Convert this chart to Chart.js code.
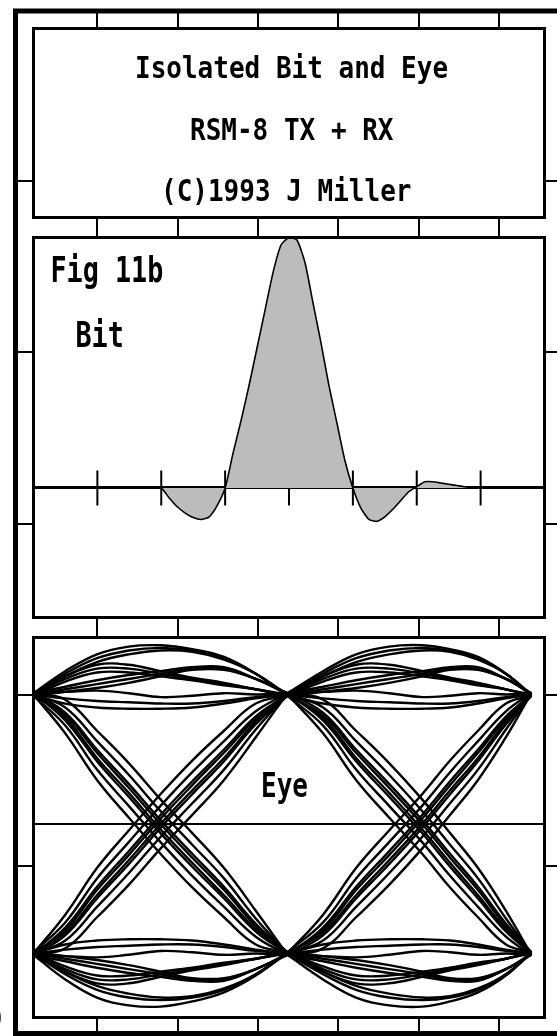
<!DOCTYPE html>
<html><head><meta charset="utf-8">
<script src="https://cdn.jsdelivr.net/npm/chart.js@4.4.1/dist/chart.umd.min.js"></script>
<style>
html,body{margin:0;padding:0;background:#fff;overflow:hidden;width:557px;height:1036px;}
canvas{position:absolute;display:block;}
</style></head><body>
<canvas id="frame" width="600" height="1040" style="left:0px;top:0px"></canvas>
<canvas id="box1" width="518" height="198" style="left:30px;top:24px"></canvas>
<canvas id="box2" width="518" height="389" style="left:30px;top:233px"></canvas>
<canvas id="box3" width="518" height="389" style="left:30px;top:633px"></canvas>
<script>
// ---- text ----
const titleLines = ["Isolated Bit and Eye", "RSM-8 TX + RX", "(C)1993 J Miller"];
const figLabel = "Fig 11b";
const bitLabel = "Bit";
const eyeLabel = "Eye";
const edgeGlyph = ")";

// ---- isolated bit (pulse response), x in bit periods ----
const bitX = [1.875, 2, 2.125, 2.25, 2.375, 2.5, 2.625, 2.75, 2.875, 3, 3.125, 3.25, 3.375, 3.5, 3.625, 3.75, 3.875, 4, 4.125, 4.25, 4.375, 4.5, 4.625, 4.75, 4.875, 5, 5.125, 5.25, 5.375, 5.5, 5.625, 5.75, 5.875, 6, 6.125, 6.25, 6.375, 6.5, 6.625, 6.75, 6.875];
const bitY = [0, 0, -0.04, -0.075, -0.10, -0.118, -0.126, -0.115, -0.07, 0, 0.14, 0.27, 0.41, 0.56, 0.71, 0.86, 0.97, 1.0, 0.99, 0.90, 0.74, 0.58, 0.41, 0.26, 0.11, 0, -0.08, -0.125, -0.133, -0.115, -0.085, -0.05, -0.015, 0.005, 0.025, 0.025, 0.02, 0.015, 0.01, 0.005, 0];
const bitTicks = [1, 2, 3, 4, 5, 6, 7];

// ---- eye diagram: sample times for the two periods ----
const eyeTimeA = [0, 0.125, 0.25, 0.375, 0.5, 0.625, 0.75, 0.875, 1];
const eyeTimeB = [1, 1.14, 1.27, 1.40, 1.53, 1.64, 1.75, 1.86, 1.96];

// traces staying high
const eyeHigh = [
  [1.01, 1.18, 1.31, 1.37, 1.38, 1.35, 1.29, 1.16, 0.99],
  [1.00, 1.16, 1.28, 1.34, 1.36, 1.34, 1.28, 1.16, 1.00],
  [0.99, 1.14, 1.25, 1.31, 1.34, 1.33, 1.27, 1.16, 0.99],
  [1.01, 1.14, 1.23, 1.23, 1.18, 1.13, 1.09, 1.04, 0.99],
  [1.00, 1.12, 1.20, 1.20, 1.16, 1.12, 1.08, 1.04, 1.00],
  [0.99, 1.10, 1.17, 1.17, 1.14, 1.11, 1.07, 1.04, 0.99],
  [1.01, 1.06, 1.11, 1.15, 1.18, 1.21, 1.21, 1.12, 1.01],
  [1.00, 1.04, 1.08, 1.12, 1.16, 1.20, 1.20, 1.12, 1.00],
  [0.99, 1.02, 1.05, 1.09, 1.14, 1.19, 1.19, 1.12, 1.01],
  [1.01, 1.02, 1.03, 1.01, 0.98, 0.99, 1.01, 1.00, 1.01],
  [1.00, 0.97, 0.95, 0.94, 0.93, 0.93, 0.95, 0.98, 1.00],
  [1.00, 0.93, 0.90, 0.89, 0.89, 0.90, 0.93, 0.97, 1.00]
];
// traces staying low
const eyeLow = [
  [-1.01, -1.20, -1.34, -1.40, -1.41, -1.37, -1.30, -1.17, -0.99],
  [-1.00, -1.16, -1.28, -1.34, -1.36, -1.34, -1.28, -1.16, -1.00],
  [-0.99, -1.14, -1.25, -1.31, -1.34, -1.33, -1.27, -1.16, -0.99],
  [-1.01, -1.14, -1.23, -1.23, -1.18, -1.13, -1.09, -1.04, -0.99],
  [-1.00, -1.12, -1.20, -1.20, -1.16, -1.12, -1.08, -1.04, -1.00],
  [-0.99, -1.10, -1.17, -1.17, -1.14, -1.11, -1.07, -1.04, -0.99],
  [-1.01, -1.06, -1.11, -1.15, -1.18, -1.21, -1.21, -1.12, -1.01],
  [-1.00, -1.04, -1.08, -1.12, -1.16, -1.20, -1.20, -1.12, -1.00],
  [-0.99, -1.02, -1.05, -1.09, -1.14, -1.19, -1.19, -1.12, -1.01],
  [-1.01, -1.02, -1.03, -1.01, -0.98, -0.99, -1.01, -1.00, -1.01],
  [-1.00, -0.97, -0.95, -0.94, -0.93, -0.93, -0.95, -0.98, -1.00],
  [-1.00, -0.93, -0.90, -0.89, -0.89, -0.90, -0.93, -0.97, -1.00]
];
// falling transitions
const eyeFall = [
  [1.01, 0.96, 0.72, 0.47, 0.19, -0.07, -0.34, -0.67, -1.01],
  [1.00, 0.90, 0.64, 0.38, 0.10, -0.16, -0.42, -0.73, -1.00],
  [1.01, 0.86, 0.575, 0.31, 0.03, -0.23, -0.485, -0.77, -0.99],
  [0.99, 0.84, 0.55, 0.28, 0.00, -0.26, -0.51, -0.79, -1.01],
  [1.00, 0.82, 0.51, 0.24, -0.04, -0.30, -0.55, -0.81, -0.99],
  [1.01, 0.80, 0.485, 0.21, -0.07, -0.33, -0.575, -0.83, -1.00],
  [0.99, 0.76, 0.42, 0.14, -0.14, -0.40, -0.64, -0.87, -1.01],
  [1.00, 0.70, 0.34, 0.05, -0.23, -0.49, -0.72, -0.93, -0.99]
];
// rising transitions
const eyeRise = [
  [-1.01, -0.96, -0.72, -0.47, -0.19, 0.07, 0.34, 0.67, 1.01],
  [-1.00, -0.90, -0.64, -0.38, -0.10, 0.16, 0.42, 0.73, 1.00],
  [-1.01, -0.86, -0.575, -0.31, -0.03, 0.23, 0.485, 0.77, 0.99],
  [-0.99, -0.84, -0.55, -0.28, 0.00, 0.26, 0.51, 0.79, 1.01],
  [-1.00, -0.82, -0.51, -0.24, 0.04, 0.30, 0.55, 0.81, 0.99],
  [-1.01, -0.80, -0.485, -0.21, 0.07, 0.33, 0.575, 0.83, 1.00],
  [-0.99, -0.76, -0.42, -0.14, 0.14, 0.40, 0.64, 0.87, 1.01],
  [-1.00, -0.70, -0.34, -0.05, 0.23, 0.49, 0.72, 0.93, 0.99]
];

// ---- drawing helpers ----
const FONT = '"DejaVu Sans Mono", "Liberation Mono", monospace';
function drawTexts(chart, texts) {
  const ctx = chart.ctx;
  const ox = chart.canvas.offsetLeft, oy = chart.canvas.offsetTop;
  (texts || []).forEach(t => {
    ctx.save();
    ctx.fillStyle = '#000';
    ctx.font = 'bold ' + t.size + 'px ' + FONT;
    ctx.textAlign = 'left';
    ctx.textBaseline = 'alphabetic';
    ctx.translate(t.x - ox, t.y - oy);
    ctx.scale(t.sx || 1, t.sy || 1);
    ctx.fillText(t.text, 0, 0);
    ctx.restore();
  });
}
const boxPlugin = {
  id: 'boxFrame',
  beforeDraw(chart) {
    const {ctx, chartArea: a} = chart;
    ctx.save();
    ctx.fillStyle = '#fff';
    ctx.fillRect(a.left, a.top, a.right - a.left, a.bottom - a.top);
    ctx.restore();
  },
  afterDraw(chart, args, opts) {
    const {ctx, chartArea: a} = chart;
    ctx.save();
    ctx.strokeStyle = '#000';
    ctx.lineWidth = 3;
    ctx.strokeRect(a.left, a.top, a.right - a.left, a.bottom - a.top);
    ctx.restore();
    drawTexts(chart, opts.texts);
  }
};
const framePlugin = {
  id: 'outerFrame',
  afterDraw(chart, args, opts) {
    const ctx = chart.ctx;
    ctx.save();
    ctx.strokeStyle = '#000';
    ctx.lineWidth = 5;
    ctx.strokeRect(15.5, 11, 620, 1022.5);
    ctx.restore();
    drawTexts(chart, opts.texts);
  }
};
const base = {
  responsive: false, animation: false, events: [],
  plugins: {legend: {display: false}, tooltip: {enabled: false}, title: {display: false}}
};
function opts(extra) {
  return Object.assign({}, base, extra, {plugins: Object.assign({}, base.plugins, extra.plugins || {})});
}
const boxPadding = {autoPadding: false, padding: {left: 3.5, right: 3.5, top: 4.5, bottom: 4.5}};

// ---- outer frame with grid ----
new Chart(document.getElementById('frame'), {
  type: 'line',
  data: {datasets: []},
  options: opts({
    layout: {autoPadding: false, padding: {left: 17, right: 20.5, top: 9.75, bottom: 2.75}},
    plugins: {outerFrame: {texts: [{text: edgeGlyph, x: -10, y: 1027, size: 26, sy: 1.16}]}},
    scales: {
      x: {type: 'linear', min: 0, max: 7, ticks: {display: false, stepSize: 1}, grid: {color: '#000', lineWidth: 2, drawTicks: false}, border: {display: false}},
      y: {type: 'linear', min: 0, max: 6, ticks: {display: false, stepSize: 1}, grid: {color: '#000', lineWidth: 2, drawTicks: false}, border: {display: false}}
    }
  }),
  plugins: [framePlugin]
});

// ---- title box ----
new Chart(document.getElementById('box1'), {
  type: 'line',
  data: {datasets: []},
  options: opts({
    layout: boxPadding,
    plugins: {boxFrame: {texts: [
      {text: titleLines[0], x: 135, y: 78, size: 26, sy: 1.16},
      {text: titleLines[1], x: 190, y: 140, size: 26, sy: 1.16},
      {text: titleLines[2], x: 161, y: 201, size: 26, sy: 1.16}
    ]}},
    scales: {x: {type: 'linear', display: false, min: 0, max: 1}, y: {type: 'linear', display: false, min: 0, max: 1}}
  }),
  plugins: [boxPlugin]
});

// ---- isolated bit ----
new Chart(document.getElementById('box2'), {
  type: 'line',
  data: {datasets: [
    {data: bitX.map((x, i) => ({x: x, y: bitY[i]})), borderColor: '#000', borderWidth: 1.6,
     backgroundColor: '#bcbcbc', fill: 'origin', pointRadius: 0, tension: 0.2},
    {type: 'scatter', data: bitTicks.map(x => ({x: x, y: 0})), showLine: false,
     pointStyle: 'line', pointRotation: 90, pointRadius: 17.5, pointBorderWidth: 2,
     pointBorderColor: '#000', pointBackgroundColor: '#000'}
  ]},
  options: opts({
    layout: boxPadding,
    plugins: {boxFrame: {texts: [
      {text: figLabel, x: 50.5, y: 282, size: 26, sx: 1.03, sy: 1.37},
      {text: bitLabel, x: 75.5, y: 346.5, size: 26, sx: 1.03, sy: 1.37}
    ]}},
    scales: {
      x: {type: 'linear', min: 0, max: 8, position: {y: 0}, z: 1, ticks: {display: false}, grid: {display: false}, border: {display: true, color: '#000', width: 3}},
      y: {type: 'linear', min: -0.517, max: 1.0, display: false}
    }
  }),
  plugins: [boxPlugin]
});

// ---- eye ----
const eyeDatasets = [];
[eyeTimeA, eyeTimeB].forEach(tx => {
  [eyeHigh, eyeLow, eyeFall, eyeRise].forEach(fam => {
    fam.forEach(tr => {
      eyeDatasets.push({
        data: tr.map((v, i) => ({x: tx[i], y: v})),
        borderColor: '#000', borderWidth: 2.4, pointRadius: 0, tension: 0.4, fill: false
      });
    });
  });
});
new Chart(document.getElementById('box3'), {
  type: 'line',
  data: {datasets: eyeDatasets},
  options: opts({
    layout: boxPadding,
    plugins: {boxFrame: {texts: [
      {text: eyeLabel, x: 261, y: 796.5, size: 26, sy: 1.3}
    ]}},
    scales: {
      x: {type: 'linear', min: 0, max: 2.0118, position: {y: 0}, ticks: {display: false}, grid: {display: false}, border: {display: true, color: '#000', width: 2}},
      y: {type: 'linear', min: -1.494, max: 1.44, display: false}
    }
  }),
  plugins: [boxPlugin]
});
</script>
</body></html>
